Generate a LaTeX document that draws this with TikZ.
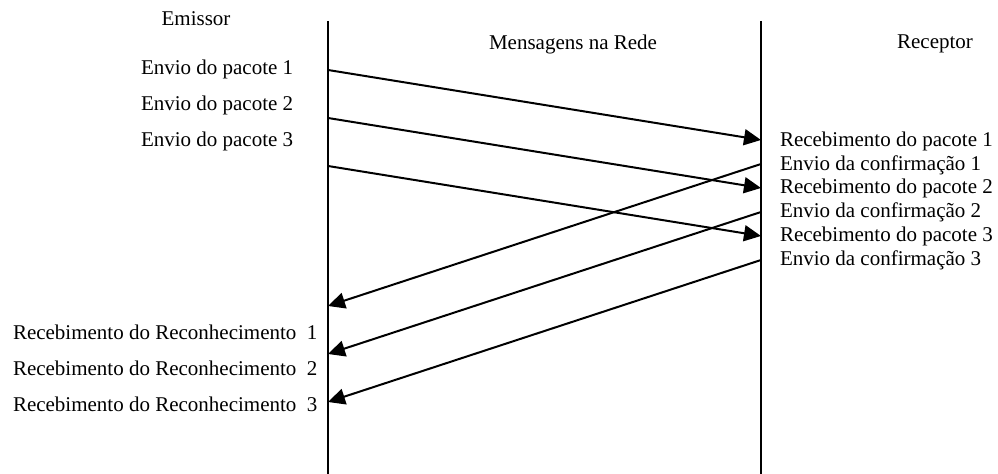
\documentclass[tikz,border=0pt]{standalone}
\usepackage{fontspec}
\setmainfont{Liberation Serif}
\usetikzlibrary{arrows.meta}
\begin{document}
\begin{tikzpicture}[x=0.5pt, y=-0.5pt, line width=1pt, >={Triangle[length=8.5pt,width=8pt]},
    font=\fontsize{10.5}{12}\selectfont, lbl/.style={inner sep=0pt}]
    \useasboundingbox (0,0) rectangle (998,474);

    % lifelines
    \coordinate (etop) at (328,21);
    \coordinate (ebot) at (328,474);
    \coordinate (rtop) at (761,21);
    \coordinate (rbot) at (761,474);
    \draw (etop) -- (ebot);
    \draw (rtop) -- (rbot);

    % titles
    \node (emissor) [lbl] at (196,19) {Emissor};
    \node (rede) [lbl] at (573,44) {Mensagens na Rede};
    \node (receptor) [lbl] at (935,44) {Receptor};

    % sender side
    \node (env1) [lbl, anchor=west] at (140,69) {Envio do pacote 1};
    \node (env2) [lbl, anchor=west] at (140,105) {Envio do pacote 2};
    \node (env3) [lbl, anchor=west] at (140,141) {Envio do pacote 3};
    \node (rec1) [lbl, anchor=west] at (12,332) {Recebimento do Reconhecimento \ 1};
    \node (rec2) [lbl, anchor=west] at (12,368) {Recebimento do Reconhecimento \ 2};
    \node (rec3) [lbl, anchor=west] at (12,404) {Recebimento do Reconhecimento \ 3};

    % receiver side
    \node (rp1) [lbl, anchor=west] at (779,141) {Recebimento do pacote 1};
    \node (cf1) [lbl, anchor=west] at (779,165) {Envio da confirmação 1};
    \node (rp2) [lbl, anchor=west] at (779,188) {Recebimento do pacote 2};
    \node (cf2) [lbl, anchor=west] at (779,212) {Envio da confirmação 2};
    \node (rp3) [lbl, anchor=west] at (779,236) {Recebimento do pacote 3};
    \node (cf3) [lbl, anchor=west] at (779,260) {Envio da confirmação 3};

    % message ends on the lifelines
    \coordinate (p1s) at (328,70);  \coordinate (p1e) at (761,140);
    \coordinate (p2s) at (328,118); \coordinate (p2e) at (761,188);
    \coordinate (p3s) at (328,166); \coordinate (p3e) at (761,236);
    \coordinate (c1s) at (761,164); \coordinate (c1e) at (328,306);
    \coordinate (c2s) at (761,212); \coordinate (c2e) at (328,354);
    \coordinate (c3s) at (761,260); \coordinate (c3e) at (328,402);

    \draw[->] (p1s) -- (p1e);
    \draw[->] (p2s) -- (p2e);
    \draw[->] (p3s) -- (p3e);
    \draw[->] (c1s) -- (c1e);
    \draw[->] (c2s) -- (c2e);
    \draw[->] (c3s) -- (c3e);
\end{tikzpicture}
\end{document}
